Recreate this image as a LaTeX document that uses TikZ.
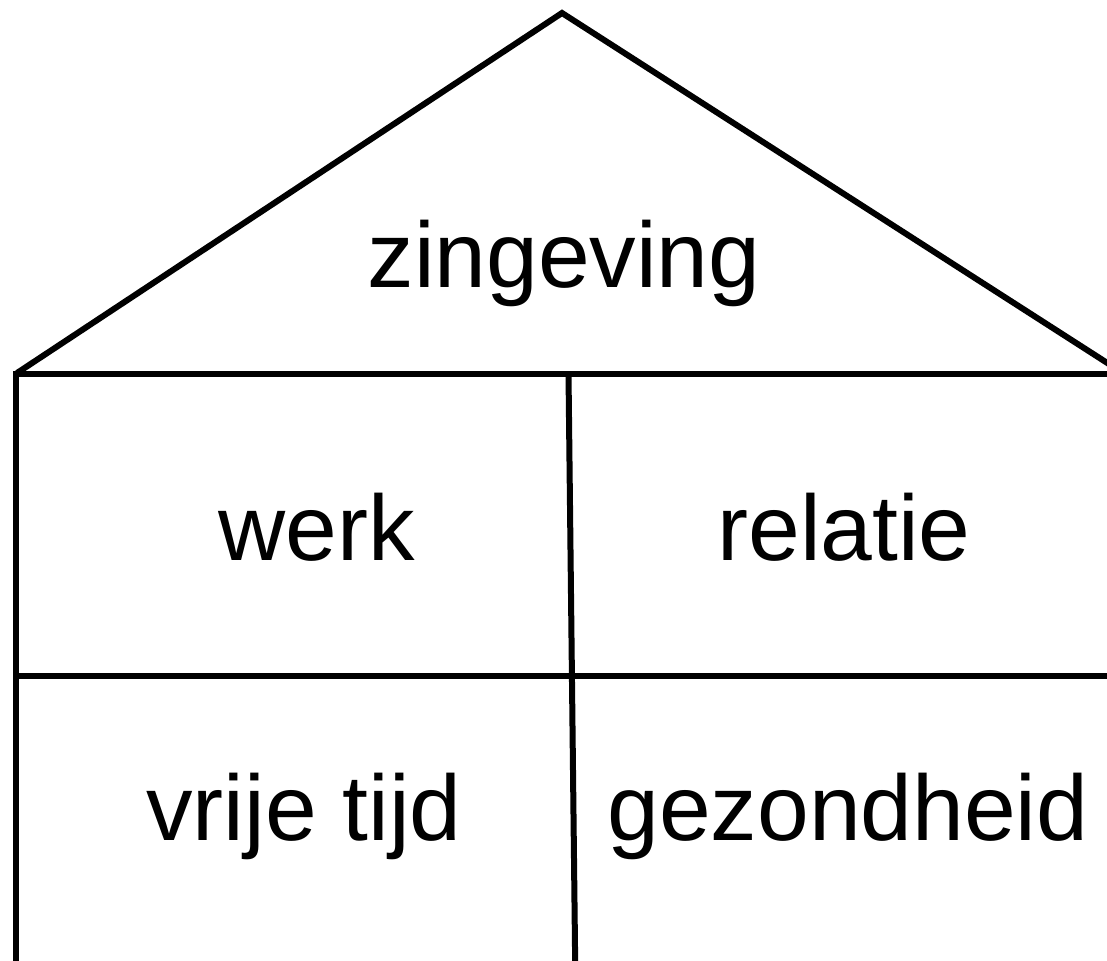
\documentclass[tikz,border=0pt]{standalone}
\usepackage{fontspec}
\setmainfont{Liberation Sans}
\begin{document}
\begin{tikzpicture}[x=1pt,y=-1pt,
  wall/.style={line width=6pt,line cap=butt,line join=miter},
  lbl/.style={anchor=base,inner sep=0pt,font=\fontsize{93}{110}\selectfont}]
\useasboundingbox (0,0) rectangle (1107,960);
\coordinate (apex) at (562,13);
\coordinate (rl) at (17,373);
\coordinate (rr) at (1112,366);
\coordinate (tl) at (16,374);
\coordinate (tr) at (1112,374);
\coordinate (ml) at (16,676);
\coordinate (mr) at (1112,676);
\coordinate (bl) at (16,965);
\coordinate (ct) at (568.5,374);
\coordinate (cb) at (575.2,965);
\draw[wall] (rl) -- (apex) -- (rr);
\draw[wall] (13,374) -- (tr);
\draw[wall] (16,371) -- (bl);
\draw[wall] (ml) -- (mr);
\draw[wall] (ct) -- (cb);
\node[lbl] (zin) at (564,287) {zingeving};
\node[lbl] (werk) at (317,560) {werk};
\node[lbl] (rel) at (844,560) {relatie};
\node[lbl] (vrij) at (304,840) {vrije tijd};
\node[lbl] (gez) at (848,840) {gezondheid};
\end{tikzpicture}
\end{document}
